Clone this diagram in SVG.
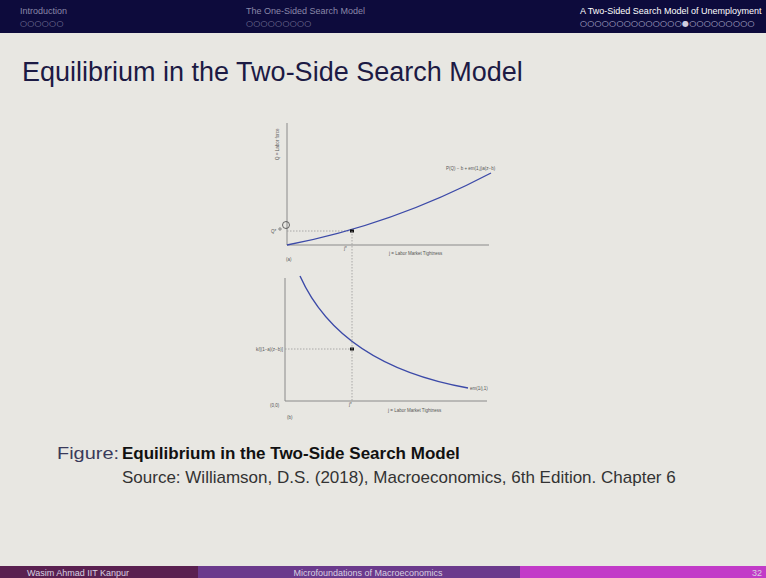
<svg xmlns="http://www.w3.org/2000/svg" width="766" height="578" viewBox="0 0 766 578">
<style>
.nav{font-family:"Liberation Sans",Arial,sans-serif;font-size:9px;fill:#8a88a8}
.navc{font-family:"Liberation Sans",Arial,sans-serif;font-size:9px;fill:#ffffff}
.dots{font-family:"DejaVu Sans",sans-serif;font-size:8px;fill:#8a88a8;letter-spacing:0.3px}
.tiny{font-family:"Liberation Sans",Arial,sans-serif;font-size:4.5px;fill:#555}
.axis{stroke:#8a8a8a;stroke-width:1;fill:none}
.dot{stroke:#9a9a9a;stroke-width:0.8;stroke-dasharray:1.5,1.5;fill:none}
.curve{stroke:#3c4aa8;stroke-width:1.4;fill:none}
.cap{font-family:"Liberation Sans",Arial,sans-serif;font-size:17px;fill:#333}
.foot{font-family:"Liberation Sans",Arial,sans-serif;font-size:9px;fill:#d8d0e0}
</style>
<rect width="766" height="578" fill="#e8e7e2"/>
<g id="header">
<rect x="0" y="0" width="766" height="33" fill="#0d0b3c"/>
<text class="nav" x="20" y="14">Introduction</text>
<text class="dots" x="20" y="26">○○○○○○</text>
<text class="nav" x="246" y="14">The One-Sided Search Model</text>
<text class="dots" x="246" y="26">○○○○○○○○○</text>
<text class="navc" x="580" y="14">A Two-Sided Search Model of Unemployment</text>
<text class="dots" x="580" y="26" style="fill:#cfcde0">○○○○○○○○○○○○○○●○○○○○○○○○</text>
</g>
<g id="title">
<text x="22" y="81" font-family="Liberation Sans,Arial,sans-serif" font-size="27" fill="#1c1a44">Equilibrium in the Two-Side Search Model</text>
</g>
<g id="panel-a">
<line class="axis" x1="287" y1="123" x2="287" y2="245"/>
<line class="axis" x1="287" y1="245" x2="489" y2="245"/>
<line class="dot" x1="287" y1="231" x2="352" y2="231"/>
<path class="curve" d="M287,245 Q392,225 491,173"/>
<rect x="350" y="229.5" width="4" height="3" fill="#111"/>
<text class="tiny" transform="translate(279,160) rotate(-90)">Q = Labor force</text>
<text class="tiny" x="271" y="233">Q*</text>
<circle cx="286" cy="225" r="3.5" fill="none" stroke="#444" stroke-width="0.8"/>
<circle cx="280" cy="229" r="1.2" fill="none" stroke="#444" stroke-width="0.6"/>
<text class="tiny" x="446" y="170">P(Q) − b + em(1,j)a(z−b)</text>
<text class="tiny" x="344" y="250">j*</text>
<text class="tiny" x="389" y="255">j = Labor Market Tightness</text>
<text class="tiny" x="286" y="261">(a)</text>
</g>
<g id="panel-b">
<line class="axis" x1="285" y1="278" x2="285" y2="401"/>
<line class="axis" x1="285" y1="401" x2="487" y2="401"/>
<line class="dot" x1="285" y1="349" x2="352" y2="349"/>
<path class="curve" d="M300,276 Q340,365 468,388"/>
<rect x="350" y="347.5" width="4" height="3" fill="#111"/>
<text class="tiny" x="283" y="350.5" text-anchor="end">k/[(1−a)(z−b)]</text>
<text class="tiny" x="470" y="390">em(1/j,1)</text>
<text class="tiny" x="270" y="407">(0,0)</text>
<text class="tiny" x="349" y="406">j*</text>
<text class="tiny" x="388" y="412">j = Labor Market Tightness</text>
<text class="tiny" x="287" y="419">(b)</text>
</g>
<g id="connectors">
<line class="dot" x1="352" y1="231" x2="352" y2="401"/>
</g>
<g id="caption">
<text class="cap" x="57" y="459" textLength="62" lengthAdjust="spacingAndGlyphs" style="fill:#3a3a5a">Figure:</text>
<text class="cap" x="122" y="459" font-weight="bold" style="fill:#111">Equilibrium in the Two-Side Search Model</text>
<text class="cap" x="122" y="483">Source: Williamson, D.S. (2018), Macroeconomics, 6th Edition. Chapter 6</text>
</g>
<g id="footer">
<rect x="0" y="566" width="198" height="12" fill="#5a2050"/>
<rect x="198" y="566" width="322" height="12" fill="#6b3a8c"/>
<rect x="520" y="566" width="246" height="12" fill="#c23bc8"/>
<text class="foot" x="78" y="576" text-anchor="middle">Wasim Ahmad  IIT Kanpur</text>
<text class="foot" x="368" y="576" text-anchor="middle">Microfoundations of Macroeconomics</text>
<text class="foot" x="762" y="576" text-anchor="end">32</text>
</g>
</svg>
